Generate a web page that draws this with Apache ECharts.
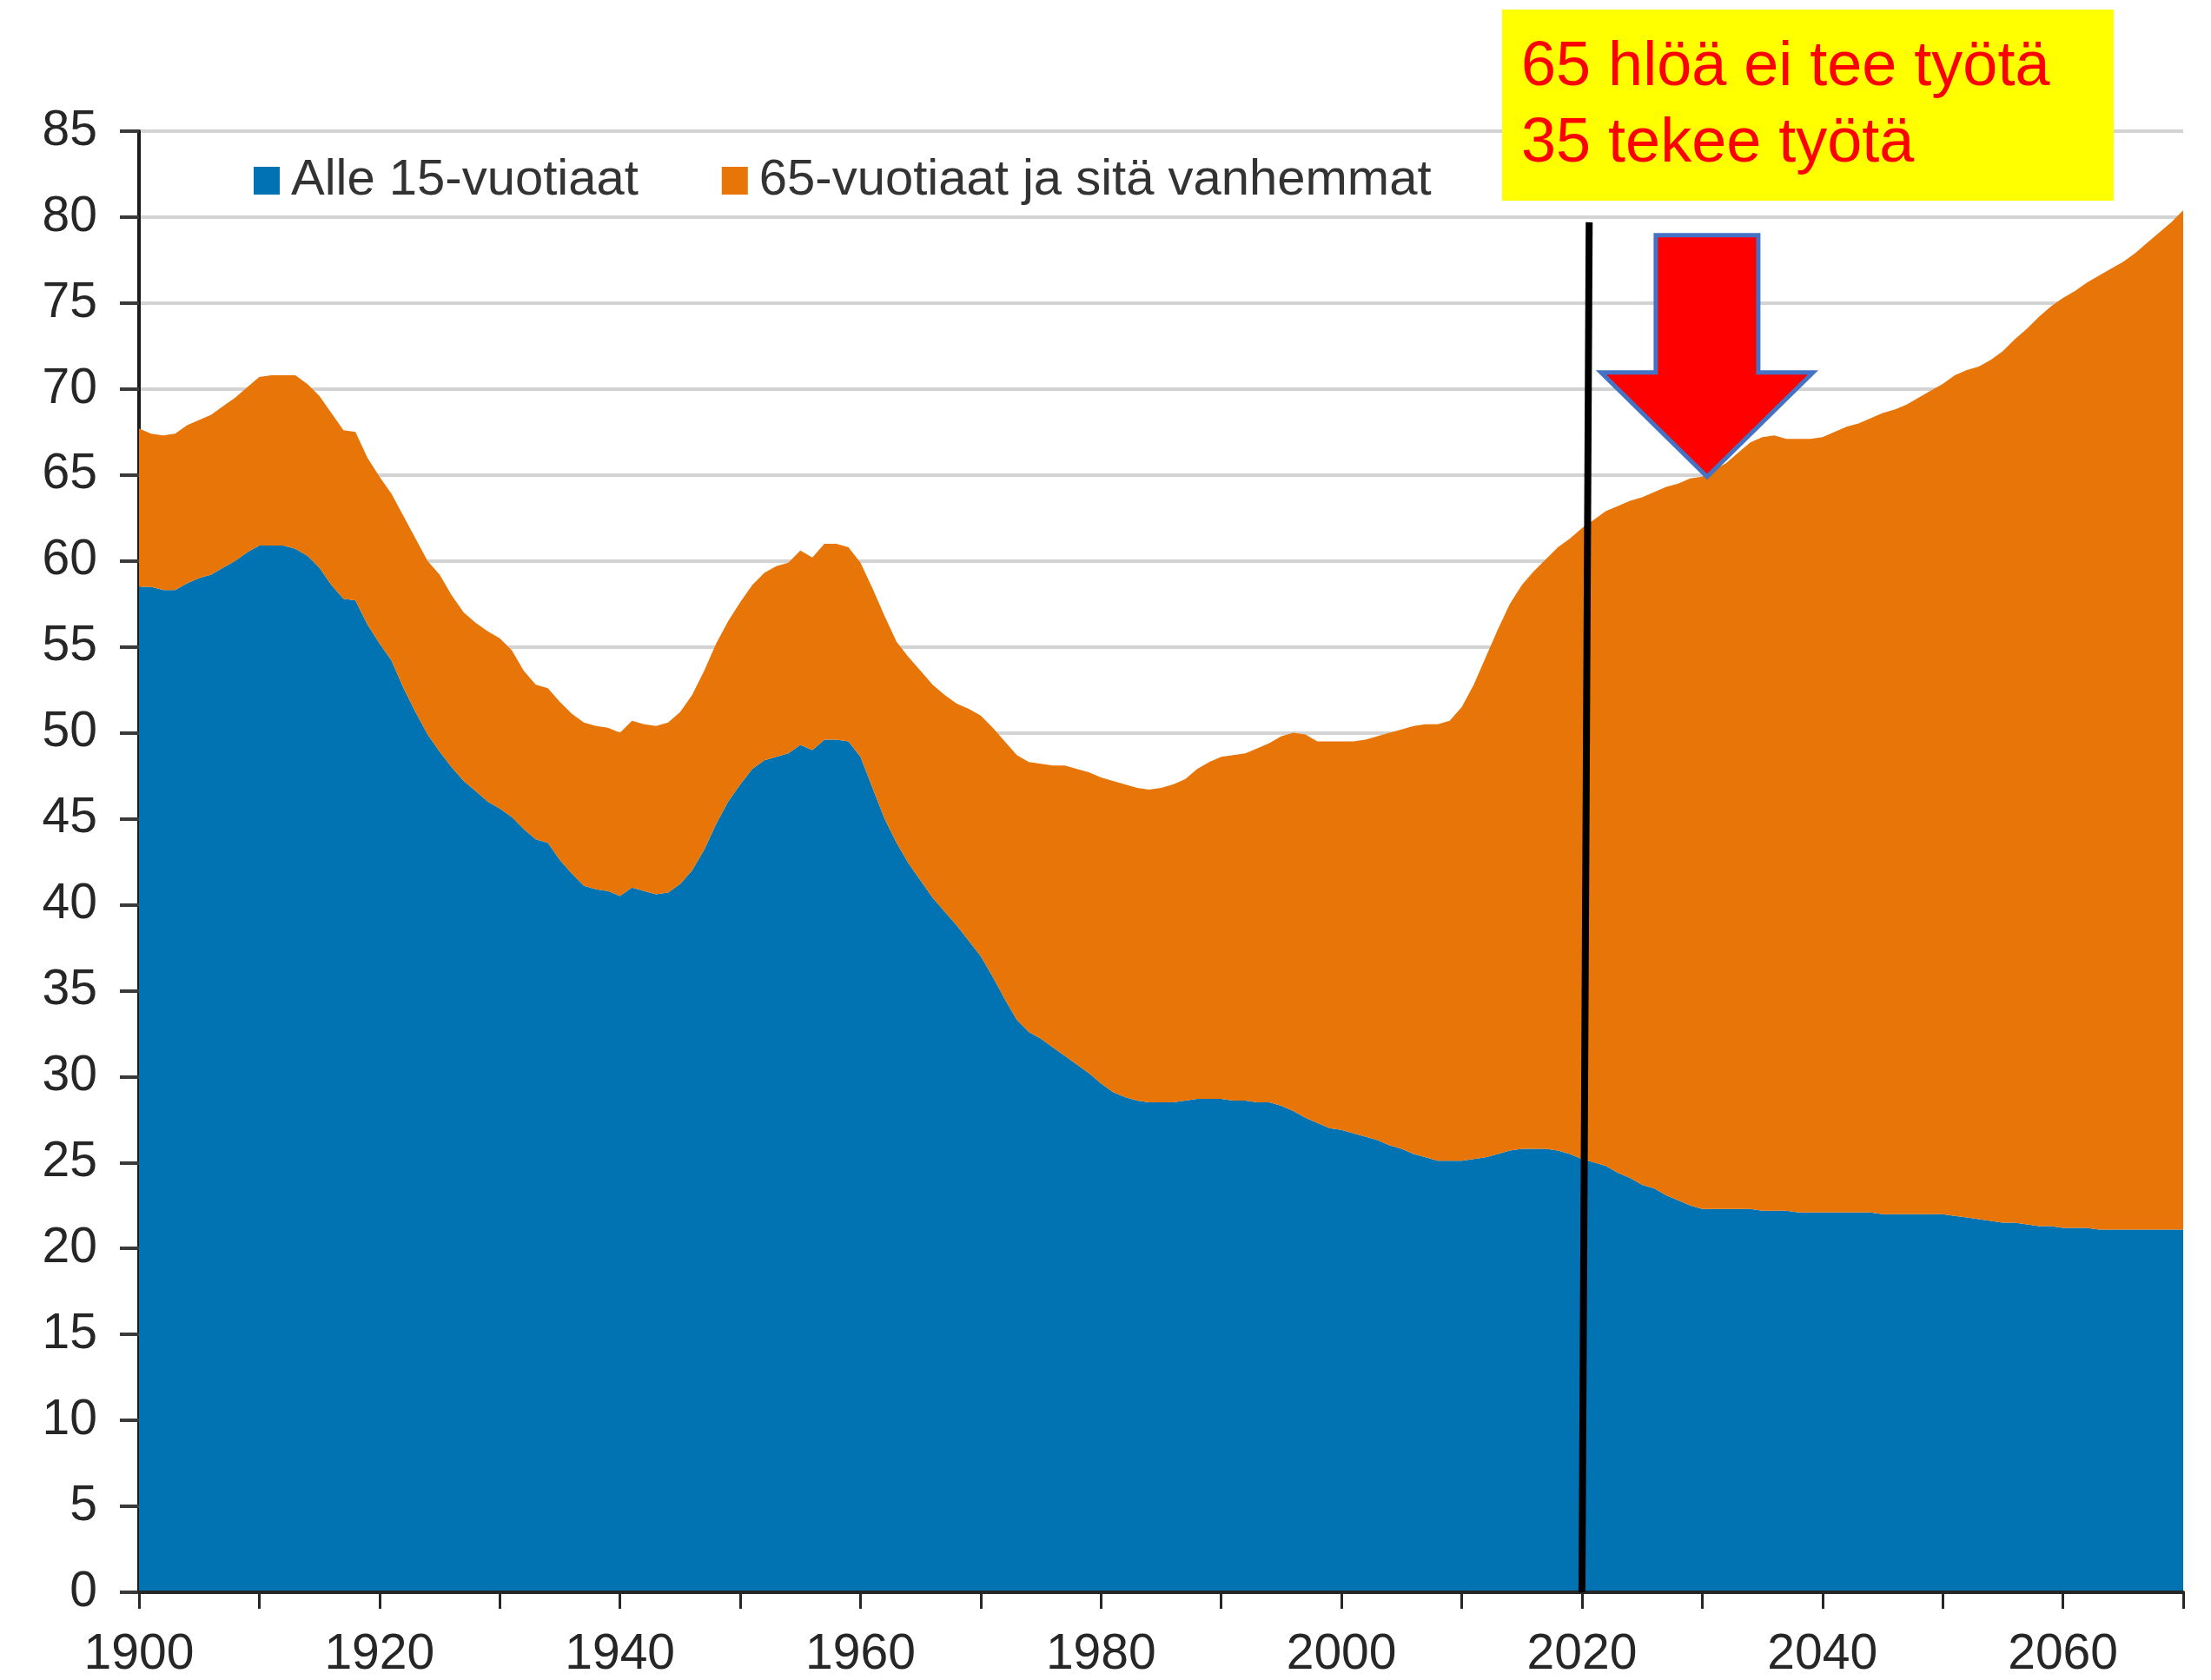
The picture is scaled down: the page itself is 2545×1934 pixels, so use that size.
<!DOCTYPE html>
<html>
<head>
<meta charset="utf-8">
<script src="https://cdn.jsdelivr.net/npm/echarts@6/dist/echarts.min.js"></script>
<style>
html,body{margin:0;padding:0;background:#fff;}
#main{width:2545px;height:1934px;}
</style>
</head>
<body>
<div id="main"></div>
<script>
// ---- Data ----
const firstYear = 1900;
const seriesNames = ['Alle 15-vuotiaat', '65-vuotiaat ja sitä vanhemmat'];
// Alle 15-vuotiaat, one value per year 1900..2070
const under15 = [
58.5,58.5,58.3,58.3,58.7,59.0,59.2,59.6,60.0,60.5,
60.9,60.9,60.9,60.7,60.3,59.6,58.6,57.8,57.7,56.3,
55.2,54.2,52.6,51.2,49.9,48.9,48.0,47.2,46.6,46.0,
45.6,45.1,44.4,43.8,43.6,42.6,41.8,41.1,40.9,40.8,
40.5,41.0,40.8,40.6,40.7,41.2,42.0,43.2,44.7,46.0,
47.0,47.9,48.4,48.6,48.8,49.3,49.0,49.6,49.6,49.5,
48.6,46.8,45.0,43.6,42.4,41.4,40.4,39.6,38.8,37.9,
37.0,35.8,34.5,33.3,32.6,32.2,31.7,31.2,30.7,30.2,
29.6,29.1,28.8,28.6,28.5,28.5,28.5,28.6,28.7,28.7,
28.7,28.6,28.6,28.5,28.5,28.3,28.0,27.6,27.3,27.0,
26.9,26.7,26.5,26.3,26.0,25.8,25.5,25.3,25.1,25.1,
25.1,25.2,25.3,25.5,25.7,25.8,25.8,25.8,25.7,25.5,
25.2,25.0,24.8,24.4,24.1,23.7,23.5,23.1,22.8,22.5,
22.3,22.3,22.3,22.3,22.3,22.2,22.2,22.2,22.1,22.1,
22.1,22.1,22.1,22.1,22.1,22.0,22.0,22.0,22.0,22.0,
22.0,21.9,21.8,21.7,21.6,21.5,21.5,21.4,21.3,21.3,
21.2,21.2,21.2,21.1,21.1,21.1,21.1,21.1,21.1,21.1,
21.1
];
// 65-vuotiaat ja sitä vanhemmat, one value per year 1900..2070
const over65 = [
9.2,8.9,9.0,9.1,9.2,9.2,9.3,9.4,9.5,9.6,
9.8,9.9,9.9,10.1,10.0,10.0,10.0,9.8,9.8,9.7,
9.7,9.7,10.0,10.1,10.1,10.3,10.0,9.8,9.8,9.9,
9.9,9.7,9.2,9.0,9.0,9.2,9.3,9.5,9.5,9.5,
9.5,9.7,9.7,9.8,9.9,10.0,10.2,10.4,10.5,10.5,
10.6,10.7,10.9,11.1,11.1,11.3,11.2,11.4,11.4,11.3,
11.3,11.6,11.8,11.7,12.0,12.2,12.4,12.6,12.9,13.5,
14.0,14.5,15.0,15.4,15.7,16.0,16.4,16.9,17.2,17.5,
17.8,18.1,18.2,18.2,18.2,18.3,18.5,18.7,19.2,19.6,
19.9,20.1,20.2,20.6,20.9,21.5,22.0,22.3,22.2,22.5,
22.6,22.8,23.1,23.5,24.0,24.4,24.9,25.2,25.4,25.6,
26.4,27.6,29.1,30.5,31.8,32.8,33.6,34.3,35.1,35.8,
36.7,37.4,38.1,38.8,39.4,40.0,40.5,41.2,41.7,42.3,
42.6,43.0,43.4,44.0,44.6,45.0,45.1,44.9,45.0,45.0,
45.1,45.4,45.7,45.9,46.2,46.6,46.8,47.1,47.5,47.9,
48.3,48.9,49.3,49.6,50.1,50.7,51.4,52.1,52.9,53.5,
54.1,54.5,55.0,55.5,55.9,56.3,56.8,57.4,58.0,58.6,
59.3
];
// Annotations (in data coordinates: [year, value])
const noteLines = ['65 hlöä ei tee työtä', '35 tekee työtä'];
const dividerLine = [[2020.6, 79.7], [2020.0, 0]];
const arrowTip = [2030.4, 64.9];
// ---- Build ----
const years = under15.map((_, i) => String(firstYear + i));

const FONT = '"Liberation Sans", Arial, sans-serif';
const chart = echarts.init(document.getElementById('main'), null, {renderer: 'canvas'});
const option = {
  animation: false,
  backgroundColor: '#ffffff',
  grid: {left: 160, right: 32, top: 151, bottom: 97, containLabel: false},
  legend: {
    left: 287, top: 172,
    icon: 'rect', itemWidth: 30, itemHeight: 32, itemGap: 96,
    textStyle: {fontFamily: FONT, fontSize: 58, color: '#333333', lineHeight: 62, padding: [0, 0, 0, 8]},
    data: seriesNames
  },
  xAxis: {
    type: 'category', data: years, boundaryGap: false, z: 5,
    axisLine: {show: true, onZero: false, lineStyle: {color: '#262626', width: 4}},
    axisTick: {show: true, length: 19, interval: (i) => i % 10 === 0, lineStyle: {color: '#262626', width: 3}},
    axisLabel: {
      fontFamily: FONT, fontSize: 57, color: '#262626', margin: 44,
      interval: (i, v) => i % 20 === 0 && i < years.length - 1
    },
    splitLine: {show: false}
  },
  yAxis: {
    type: 'value', min: 0, max: 85, interval: 5,
    axisLine: {show: true, lineStyle: {color: '#1a1a1a', width: 4}},
    axisTick: {show: true, length: 22, lineStyle: {color: '#3a3a3a', width: 4}},
    axisLabel: {fontFamily: FONT, fontSize: 57, color: '#262626', margin: 48},
    splitLine: {show: true, lineStyle: {color: '#d3d3d3', width: 4}}
  },
  series: [
    {
      name: seriesNames[0], type: 'line', stack: 'total', data: under15,
      symbol: 'none', lineStyle: {width: 0}, itemStyle: {color: '#0172B2'},
      areaStyle: {color: '#0172B2', opacity: 1}
    },
    {
      name: seriesNames[1], type: 'line', stack: 'total', data: over65,
      symbol: 'none', lineStyle: {width: 0}, itemStyle: {color: '#E87507'},
      areaStyle: {color: '#E87507', opacity: 1}
    }
  ]
};
chart.setOption(option);

// Convert a fractional [year, value] to pixels through the chart's own axes
function toPx(pt) {
  const i0 = Math.floor(pt[0] - firstYear);
  const f = (pt[0] - firstYear) - i0;
  const a = chart.convertToPixel({gridIndex: 0}, [i0, pt[1]]);
  const b = chart.convertToPixel({gridIndex: 0}, [Math.min(i0 + 1, years.length - 1), pt[1]]);
  return [a[0] + (b[0] - a[0]) * f, a[1]];
}
const tip = toPx(arrowTip);
const d0 = toPx(dividerLine[0]);
const d1 = toPx(dividerLine[1]);
const tx = tip[0], ty = tip[1];
const arrowPts = [
  [tx - 59, ty - 278], [tx + 59, ty - 278], [tx + 59, ty - 120], [tx + 122, ty - 120],
  [tx, ty], [tx - 122, ty - 120], [tx - 59, ty - 120]
];
chart.setOption({
  graphic: [
    {type: 'line', shape: {x1: d0[0], y1: d0[1], x2: d1[0], y2: d1[1]}, style: {stroke: '#000000', lineWidth: 8}, z: 9},
    {type: 'rect', left: 1729, top: 11, shape: {width: 704, height: 220}, style: {fill: '#FFFF00'}, z: 10},
    {type: 'text', x: 1751, y: 78, style: {text: noteLines[0], fill: '#FF0000', font: '72px ' + FONT, verticalAlign: 'middle'}, z: 11},
    {type: 'text', x: 1751, y: 166, style: {text: noteLines[1], fill: '#FF0000', font: '72px ' + FONT, verticalAlign: 'middle'}, z: 11},
    {type: 'polygon', shape: {points: arrowPts}, style: {fill: '#FF0000', stroke: '#4472C4', lineWidth: 5, lineJoin: 'miter'}, z: 12}
  ]
});
</script>
</body>
</html>
